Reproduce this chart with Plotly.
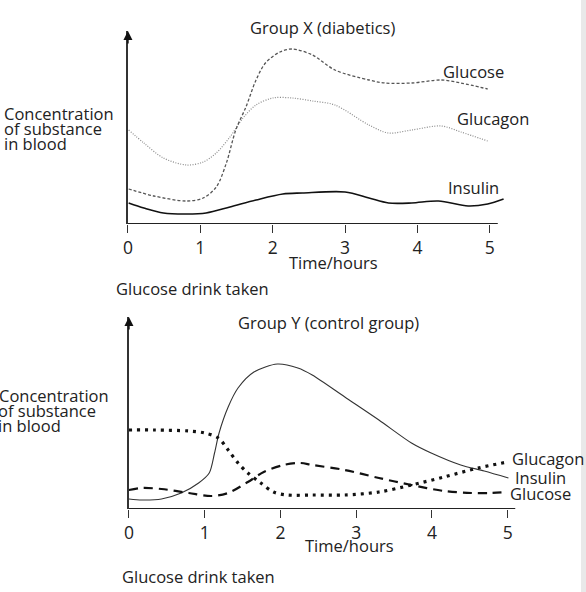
import plotly.graph_objects as go

# ---------------- data ----------------
# Group X (diabetics)
x_glucose_t = [0.01, 0.36, 0.81, 1.04, 1.22, 1.36, 1.49, 1.63, 1.77, 1.90, 2.10, 2.27, 2.55, 2.86, 3.33, 3.55, 3.92, 4.33, 4.60, 4.97]
x_glucose_v = [35, 28, 23, 26, 37, 61, 94, 117, 144, 161, 172, 175, 169, 154, 144, 141, 141, 144, 141, 135]

x_glucagon_t = [0.01, 0.22, 0.49, 0.81, 1.04, 1.22, 1.41, 1.59, 1.77, 2.0, 2.27, 2.55, 2.86, 3.33, 3.60, 3.92, 4.33, 4.60, 4.97]
x_glucagon_v = [94, 81, 66, 59, 62, 71, 87, 106, 119, 126, 126, 123, 119, 99, 91, 94, 98, 92, 83]

x_insulin_t = [0.01, 0.22, 0.49, 0.81, 1.08, 1.41, 1.77, 2.14, 2.41, 3.0, 3.33, 3.60, 3.92, 4.29, 4.70, 4.97, 5.19]
x_insulin_v = [21, 16, 11, 10, 11, 17, 24, 30, 31, 32, 26, 21, 21, 23, 18, 20, 25]

# Group Y (control group)
y_insulin_t = [0, 0.17, 0.43, 0.69, 0.92, 1.06, 1.13, 1.19, 1.31, 1.44, 1.65, 1.96, 2.23, 2.42, 2.85, 3.30, 3.73, 3.99, 4.38, 4.69, 5.01]
y_insulin_v = [10, 9, 10, 16, 26, 36, 56, 76, 102, 121, 137, 145, 141, 134, 112, 89, 66, 56, 44, 38, 31]

y_glucagon_t = [0, 0.34, 0.79, 1.0, 1.18, 1.31, 1.44, 1.57, 1.74, 1.91, 2.09, 2.42, 2.85, 3.30, 3.73, 4.16, 4.61, 5.0]
y_glucagon_v = [79, 79, 78, 76, 71, 59, 46, 36, 26, 17, 14, 14, 14, 17, 24, 32, 41, 47]

y_glucose_t = [0, 0.17, 0.43, 0.79, 1.09, 1.31, 1.57, 1.78, 2.04, 2.26, 2.42, 2.85, 3.30, 3.73, 4.16, 4.52, 4.78, 5.0]
y_glucose_v = [19, 21, 20, 16, 13, 16, 27, 37, 44, 46, 44, 39, 31, 24, 18, 16, 16, 17]

tick_vals = [0, 1, 2, 3, 4, 5]
tick_text = ["0", "1", "2", "3", "4", "5"]

# ---------------- layout helpers ----------------
W, H = 586, 592
FONT = "Open Sans"
TXT = "#222222"
FS = 16.5


def px(x):
    return x / W


def py(y):
    return 1 - y / H


fig = go.Figure()

# top chart traces
fig.add_trace(go.Scatter(x=x_glucagon_t, y=x_glucagon_v, mode="lines", line=dict(color="#8a8a8a", width=1.2, dash="1px,1.5px", shape="spline", smoothing=0.9), xaxis="x", yaxis="y"))
fig.add_trace(go.Scatter(x=x_glucose_t, y=x_glucose_v, mode="lines", line=dict(color="#555555", width=1.3, dash="3px,2px", shape="spline", smoothing=0.9), xaxis="x", yaxis="y"))
fig.add_trace(go.Scatter(x=x_insulin_t, y=x_insulin_v, mode="lines", line=dict(color="#111111", width=1.6, shape="spline", smoothing=0.9), xaxis="x", yaxis="y", cliponaxis=False))

# bottom chart traces
fig.add_trace(go.Scatter(x=y_insulin_t, y=y_insulin_v, mode="lines", line=dict(color="#333333", width=1.1, shape="spline", smoothing=0.8), xaxis="x2", yaxis="y2"))
fig.add_trace(go.Scatter(x=y_glucagon_t, y=y_glucagon_v, mode="lines", line=dict(color="#111111", width=3.2, dash="3px,5px", shape="spline", smoothing=0.9), xaxis="x2", yaxis="y2"))
fig.add_trace(go.Scatter(x=y_glucose_t, y=y_glucose_v, mode="lines", line=dict(color="#111111", width=2.2, dash="9px,6px", shape="spline", smoothing=0.9), xaxis="x2", yaxis="y2"))

TOP_SCALE = 73.0
BOT_SCALE = 76.4
top_x0, top_y0, top_ytop = 124, 224, 31
bot_x0, bot_y0, bot_ytop = 125, 509, 317
top_xr = 5.2
bot_xr = 5.12

axis_common = dict(showgrid=False, zeroline=False, tickfont=dict(family=FONT, size=17.5, color=TXT),
                   ticks="outside", ticklen=8, tickwidth=1.2, tickcolor="#333333", showline=False,
                   tickvals=tick_vals, ticktext=tick_text)
yaxis_common = dict(showgrid=False, zeroline=False, showticklabels=False, ticks="", showline=True,
                    linecolor="#333333", linewidth=1.5)

fig.update_layout(
    width=W, height=H, margin=dict(l=0, r=0, t=0, b=0),
    paper_bgcolor="white", plot_bgcolor="white", showlegend=False,
    xaxis=dict(axis_common, domain=[px(top_x0), px(top_x0 + top_xr * TOP_SCALE)], range=[0, top_xr], anchor="y"),
    yaxis=dict(yaxis_common, domain=[py(top_y0), py(top_ytop)], range=[0, top_y0 - top_ytop], anchor="x"),
    xaxis2=dict(axis_common, domain=[px(bot_x0), px(bot_x0 + bot_xr * BOT_SCALE)], range=[0, bot_xr], anchor="y2"),
    yaxis2=dict(yaxis_common, domain=[py(bot_y0), py(bot_ytop)], range=[0, bot_y0 - bot_ytop], anchor="x2"),
    font=dict(family=FONT, color=TXT),
)

shapes = []
# x axis lines
shapes.append(dict(type="line", xref="x", yref="y", x0=0, x1=5.11, y0=0, y1=0, line=dict(color="#222222", width=2)))
shapes.append(dict(type="line", xref="x2", yref="y2", x0=0, x1=5.1, y0=0, y1=0, line=dict(color="#222222", width=2)))
# grey band at right edge
shapes.append(dict(type="rect", xref="paper", yref="paper", x0=px(581), x1=1.0, y0=0, y1=1, fillcolor="#e9e9e9", line=dict(width=0), layer="above"))
fig.update_layout(shapes=shapes)

ann = []
# arrows on y axes
ann.append(dict(xref="x", yref="y", x=0, y=top_y0 - top_ytop, ax=0, ay=14, showarrow=True, arrowhead=2, arrowsize=1.2, arrowwidth=1.5, arrowcolor="#111111", text=""))
ann.append(dict(xref="x2", yref="y2", x=0, y=bot_y0 - bot_ytop, ax=0, ay=14, showarrow=True, arrowhead=2, arrowsize=1.2, arrowwidth=1.5, arrowcolor="#111111", text=""))


def label(text, x, y, size=FS, xanchor="left"):
    ann.append(dict(xref="paper", yref="paper", x=px(x), y=py(y), text=text, showarrow=False,
                    xanchor=xanchor, yanchor="middle", font=dict(family=FONT, size=size, color=TXT)))


# top chart text
label("Group X (diabetics)", 320, 28, xanchor="center")
label("Concentration", -3, 113)
label("of substance", -3, 129)
label("in blood", -3, 144)
label("Time/hours", 331, 262, xanchor="center")
label("Glucose drink taken", 189, 288, xanchor="center")
label("Glucose", 440, 71)
label("Glucagon", 454, 118)
label("Insulin", 445, 187)

# bottom chart text
label("Group Y (control group)", 326, 322, xanchor="center")
label("Concentration", -8, 395)
label("of substance", -9, 410)
label("in blood", -9, 425)
label("Time/hours", 347, 545, xanchor="center")
label("Glucose drink taken", 195, 576, xanchor="center")
label("Glucagon", 509, 458)
label("Insulin", 512, 477)
label("Glucose", 507, 493)

fig.update_layout(annotations=ann)

fig.write_html("out.html", config={"displayModeBar": False},
               post_script="document.body.style.margin='0';document.body.style.overflow='hidden';")
